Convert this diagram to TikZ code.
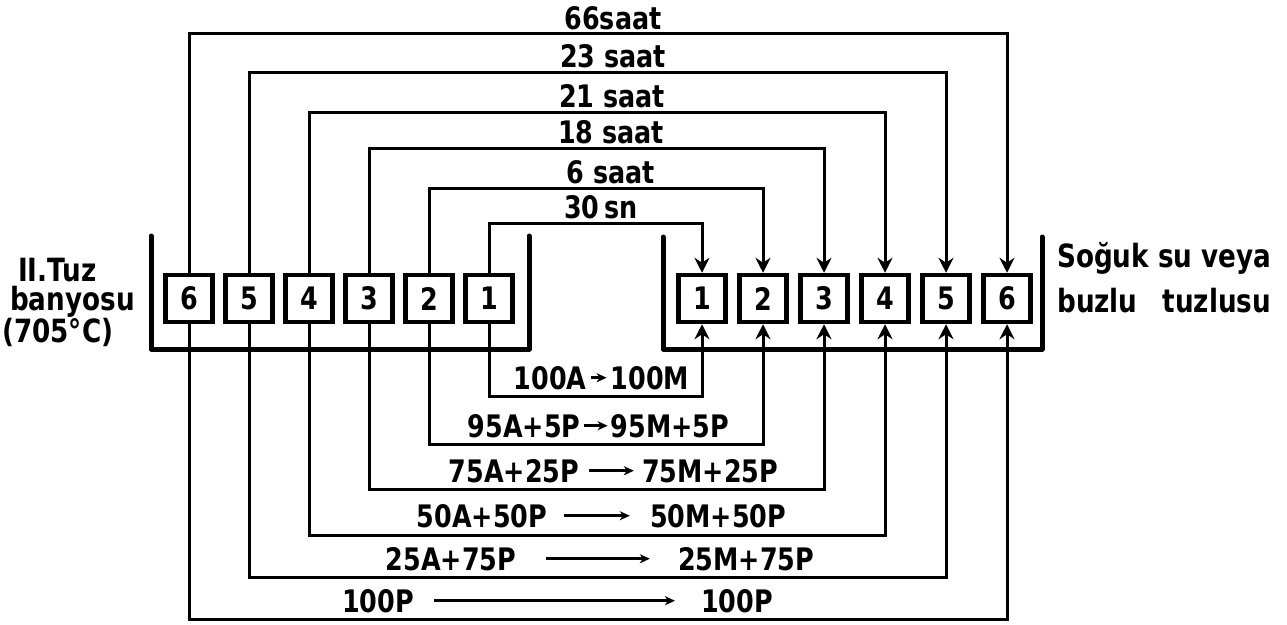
\documentclass[tikz,border=0pt]{standalone}
\usepackage{fontspec}
\setmainfont{DejaVu Sans}[FakeStretch=0.82]
\usetikzlibrary{arrows.meta}
\newcommand\labfont{\fontsize{31}{36}\selectfont\bfseries}
\newcommand\sidefont{\fontsize{32}{36}\selectfont\bfseries}
\begin{document}
\begin{tikzpicture}[x=1pt,y=-1pt,
  conn/.style={line width=3pt},
  wall/.style={line width=5pt, line cap=round, line join=round},
  box/.style={draw, line width=4.5pt, fill=white, minimum width=47pt, minimum height=47pt, inner sep=0pt, font=\labfont},
  lab/.style={inner sep=0pt, font=\labfont},
  side/.style={inner sep=0pt, font=\sidefont},
  tip/.style={-{Stealth[length=15pt,width=15pt,inset=5pt]}},
  larr/.style={line width=2.5pt, -{Stealth[length=10pt,width=9pt,inset=3pt]}}
]
\useasboundingbox (0,0) rectangle (1287,624);

% level coordinates
\coordinate (t1) at (0,223);
\coordinate (t2) at (0,188);
\coordinate (t3) at (0,148);
\coordinate (t4) at (0,112);
\coordinate (t5) at (0,72);
\coordinate (t6) at (0,33);
\coordinate (b1) at (0,396);
\coordinate (b2) at (0,444);
\coordinate (b3) at (0,489);
\coordinate (b4) at (0,535);
\coordinate (b5) at (0,577);
\coordinate (b6) at (0,619);

% baths
\draw[wall] (151,236) -- (151,349) -- (529,349) -- (529,236);
\draw[wall] (663,237) -- (663,349) -- (1042,349) -- (1042,237);

% boxes
\foreach \i/\xl/\xr in {1/489/702, 2/429/763, 3/369/824, 4/309/885, 5/249/946, 6/189/1007} {
  \node[box] (L\i) at (\xl,298.5) {\i};
  \node[box] (R\i) at (\xr,298.5) {\i};
}

% connectors
\foreach \i in {1,...,6} {
  \draw[conn,tip] (L\i.north) -- (L\i.north |- t\i) -- (R\i.north |- t\i) -- (R\i.north);
  \draw[conn,tip] (L\i.south) -- (L\i.south |- b\i) -- (R\i.south |- b\i) -- (R\i.south);
}

% top labels
\node[lab, anchor=base] (s6) at (613,29) {66saat};
\node[lab, anchor=base] (s5) at (613,67) {23 saat};
\node[lab, anchor=base] (s4) at (612,107) {21 saat};
\node[lab, anchor=base] (s3) at (611,143) {18 saat};
\node[lab, anchor=base] (s2) at (611,183) {6 saat};
\node[lab, anchor=base] (s1) at (601,218) {30\,sn};

% bottom labels
\node[lab, anchor=base] (p1l) at (550,389) {100A};
\node[lab, anchor=base] (p1r) at (650,389) {100M};
\draw[larr, shorten <=4pt, shorten >=4pt] (p1l.east) -- (p1r.west);
\node[lab, anchor=base] (p2l) at (524,437) {95A+5P};
\node[lab, anchor=base] (p2r) at (670,437) {95M+5P};
\draw[larr, shorten <=3pt, shorten >=3pt] (p2l.east) -- (p2r.west);
\node[lab, anchor=base] (p3l) at (514,482) {75A+25P};
\node[lab, anchor=base] (p3r) at (710,482) {75M+25P};
\draw[larr, shorten <=10pt, shorten >=8pt] (p3l.east) -- (p3r.west);
\node[lab, anchor=base] (p4l) at (482,527) {50A+50P};
\node[lab, anchor=base] (p4r) at (718,527) {50M+50P};
\draw[larr, shorten <=17pt, shorten >=20pt] (p4l.east) -- (p4r.west);
\node[lab, anchor=base] (p5l) at (451,570) {25A+75P};
\node[lab, anchor=base] (p5r) at (746,570) {25M+75P};
\draw[larr, shorten <=30pt, shorten >=28pt] (p5l.east) -- (p5r.west);
\node[lab, anchor=base] (p6l) at (378,612) {100P};
\node[lab, anchor=base] (p6r) at (737,612) {100P};
\draw[larr, shorten <=20pt, shorten >=26pt] (p6l.east) -- (p6r.west);

% side texts
\node[side, anchor=base west] (lt1) at (18,281) {II.Tuz};
\node[side, anchor=base west] (lt2) at (10,310) {banyosu};
\node[side, anchor=base west] (lt3) at (2,342) {(705°C)};
\node[side, anchor=base west] (rt1) at (1057,267) {Soğuk su veya};
\node[side, anchor=base west] (rt2) at (1057,312) {buzlu \hspace{16pt}tuzlusu};
\end{tikzpicture}
\end{document}
